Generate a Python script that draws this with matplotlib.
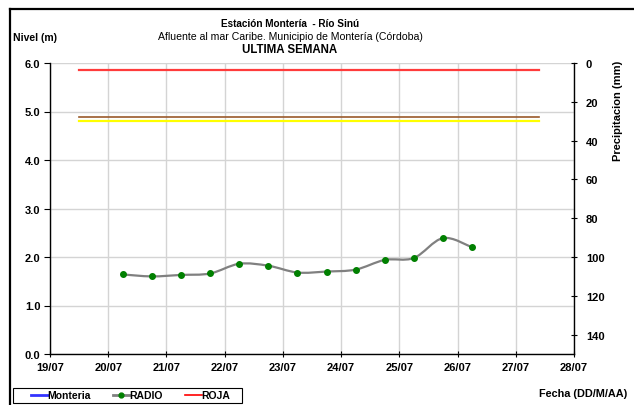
import numpy as np
import matplotlib.pyplot as plt
from matplotlib.path import Path
from matplotlib.patches import PathPatch, Rectangle
from matplotlib.lines import Line2D

plt.rcParams['font.family'] = ['Liberation Sans', 'DejaVu Sans']

# datos: dia de julio (con fraccion de hora) y nivel en metros
dias = [20.25, 20.75, 21.25, 21.75, 22.25, 22.75, 23.25, 23.75, 24.25, 24.75, 25.25, 25.75, 26.25]
nivel_radio = [1.64, 1.60, 1.63, 1.66, 1.86, 1.82, 1.68, 1.70, 1.74, 1.94, 1.98, 2.39, 2.20]

# umbrales
umbral_inicio, umbral_fin = 19.5, 27.4
nivel_roja = 5.85
nivel_cafe = 4.89
nivel_amarilla = 4.80

fechas_ticks = list(range(19, 29))
etiquetas_ticks = [f'{d}/07' for d in fechas_ticks]

W, H = 634, 406
fig = plt.figure(figsize=(W / 100, H / 100), dpi=100)
ax = fig.add_axes([50 / W, 1 - 355 / H, 524 / W, 291 / H])

# marco de la figura (solo arriba e izquierda visibles)
fig.add_artist(Line2D([10 / W, 1], [1 - 10 / H] * 2, color='black', lw=1.6, transform=fig.transFigure))
fig.add_artist(Line2D([10 / W] * 2, [0, 1 - 10 / H], color='black', lw=1.6, transform=fig.transFigure))

ax.set_xlim(19, 28)
ax.set_ylim(0, 6)
ax.set_xticks(fechas_ticks)
ax.set_xticklabels(etiquetas_ticks)
ax.set_yticks(np.arange(0, 6.01, 1.0))
ax.set_yticklabels([f'{v:.1f}' for v in np.arange(0, 6.01, 1.0)])
ax.grid(True, color='#d4d4d4', lw=1.0)
ax.set_axisbelow(True)
for s in ['top', 'right']:
    ax.spines[s].set_visible(False)
for s in ['left', 'bottom']:
    ax.spines[s].set_linewidth(1.0)
ax.tick_params(axis='y', direction='out', length=4, labelsize=8, pad=3)
ax.tick_params(axis='x', direction='inout', length=5, labelsize=8, pad=3)
for lbl in ax.get_xticklabels() + ax.get_yticklabels():
    lbl.set_fontweight('bold')

# umbrales
ax.plot([umbral_inicio, umbral_fin], [nivel_roja] * 2, color='#ff3b3b', lw=1.6)
ax.plot([umbral_inicio, umbral_fin], [nivel_cafe] * 2, color='#9a5a2a', lw=1.2)
ax.plot([umbral_inicio, umbral_fin], [nivel_amarilla] * 2, color='#ffff00', lw=1.6)

# linea suavizada tipo Excel (Bezier con los puntos medidos)
x = np.array(dias)
y = np.array(nivel_radio)
verts = [(x[0], y[0])]
codes = [Path.MOVETO]
n = len(x)
for i in range(n - 1):
    p0 = np.array([x[max(i - 1, 0)], y[max(i - 1, 0)]])
    p1 = np.array([x[i], y[i]])
    p2 = np.array([x[i + 1], y[i + 1]])
    p3 = np.array([x[min(i + 2, n - 1)], y[min(i + 2, n - 1)]])
    c1 = p1 + (p2 - p0) / 6
    c2 = p2 - (p3 - p1) / 6
    verts += [tuple(c1), tuple(c2), tuple(p2)]
    codes += [Path.CURVE4] * 3
ax.add_patch(PathPatch(Path(verts, codes), fill=False, edgecolor='#808080', lw=1.6, zorder=3))
ax.plot(dias, nivel_radio, ls='none', marker='o', ms=4, color='#008000', zorder=4)

# eje de precipitacion
ax2 = ax.twinx()
ax2.set_ylim(150, 0)
ax2.set_yticks(range(0, 141, 20))
for s in ['top', 'left', 'bottom']:
    ax2.spines[s].set_visible(False)
ax2.spines['right'].set_linewidth(1.0)
ax2.tick_params(axis='y', direction='inout', length=5, labelsize=8, pad=6)
for lbl in ax2.get_yticklabels():
    lbl.set_fontweight('bold')

# textos
fig.text(290 / W, 1 - 24 / H, 'Estación Montería  - Río Sinú', ha='center', va='center', fontsize=7.2, fontweight='bold')
fig.text(290 / W, 1 - 37 / H, 'Afluente al mar Caribe. Municipio de Montería (Córdoba)', ha='center', va='center', fontsize=7.6)
fig.text(290 / W, 1 - 50 / H, 'ULTIMA SEMANA', ha='center', va='center', fontsize=8.3, fontweight='bold')
fig.text(13 / W, 1 - 38 / H, 'Nivel (m)', ha='left', va='center', fontsize=7.5, fontweight='bold')
fig.text(618 / W, 1 - 111 / H, 'Precipitacion (mm)', ha='center', va='center', rotation=90, fontsize=8, fontweight='bold')
fig.text(627 / W, 1 - 394 / H, 'Fecha (DD/M/AA)', ha='right', va='center', fontsize=7.8, fontweight='bold')

# leyenda con recuadro propio
fig.add_artist(Rectangle((13 / W, 1 - 404 / H), 229 / W, 15 / H, fill=False, edgecolor='black',
                         lw=0.8, transform=fig.transFigure))
handles = [
    Line2D([], [], color='#3333ff', lw=2),
    Line2D([], [], color='#808080', lw=2, marker='o', ms=3.5, mfc='#008000', mec='#008000'),
    Line2D([], [], color='red', lw=1.2),
]
leg = fig.legend(handles, ['Monteria', 'RADIO', 'ROJA'], loc='center left',
                 bbox_to_anchor=(31 / W, 1 - 396.5 / H), ncol=3, fontsize=7.5, frameon=False,
                 borderpad=0, borderaxespad=0,
                 handlelength=1.6, handletextpad=0.0, columnspacing=2.1)
for t in leg.get_texts():
    t.set_fontweight('bold')

fig.savefig('out.png', dpi=100)
